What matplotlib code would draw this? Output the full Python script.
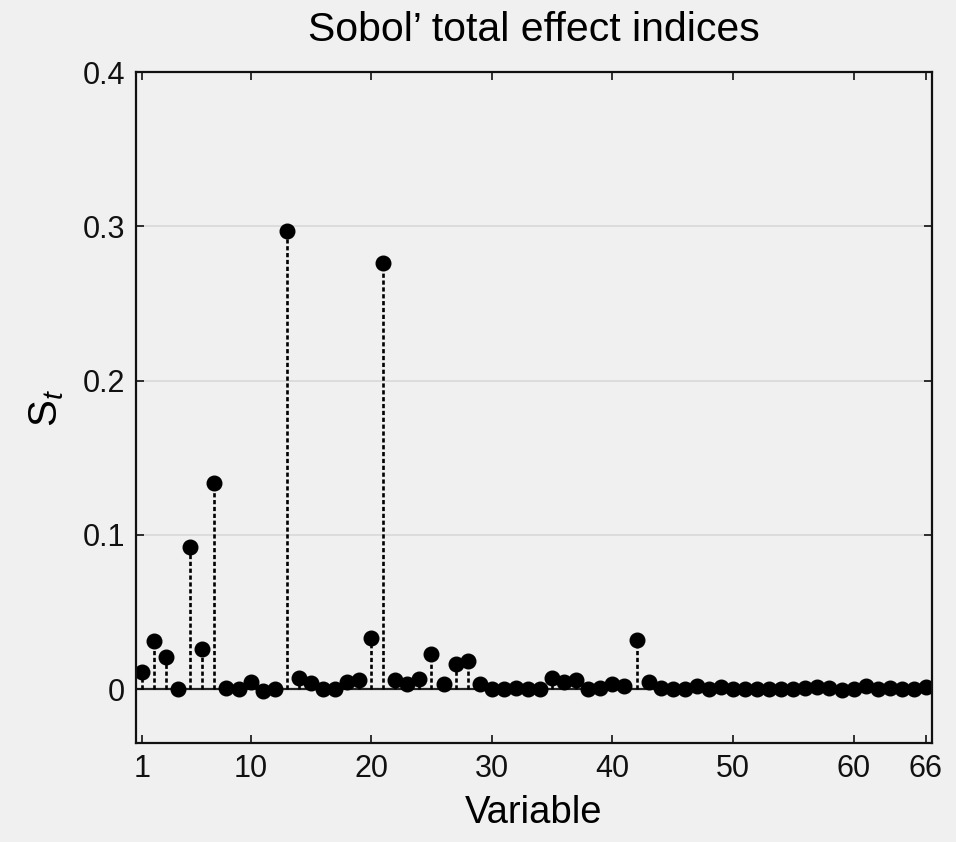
import numpy as np
import matplotlib
matplotlib.use("Agg")
import matplotlib.pyplot as plt

plt.rcParams['font.family'] = ['Liberation Sans', 'DejaVu Sans']
plt.rcParams['mathtext.fontset'] = 'custom'
plt.rcParams['mathtext.rm'] = 'Liberation Sans'
plt.rcParams['mathtext.it'] = 'Liberation Sans:italic'

# total effect index per input variable (1..66)
variables = np.arange(1, 67)
st = [
    0.0112, 0.0313, 0.0205, 0.0000, 0.0920, 0.0260, 0.1335, 0.0005, 0.0000, 0.0045,
    -0.0010, 0.0000, 0.2970, 0.0069, 0.0041, 0.0000, 0.0000, 0.0045, 0.0058, 0.0328,
    0.2763, 0.0058, 0.0030, 0.0065, 0.0225, 0.0032, 0.0160, 0.0180, 0.0030, 0.0000,
    0.0000, 0.0005, 0.0000, 0.0000, 0.0069, 0.0045, 0.0060, 0.0000, 0.0005, 0.0032,
    0.0020, 0.0315, 0.0047, 0.0005, 0.0000, 0.0000, 0.0020, 0.0003, 0.0010, 0.0003,
    0.0003, 0.0000, 0.0000, 0.0000, 0.0000, 0.0005, 0.0010, 0.0007, -0.0006, 0.0003,
    0.0022, 0.0003, 0.0005, 0.0000, 0.0003, 0.0010,
]
xticks = [1, 10, 20, 30, 40, 50, 60, 66]
yticks = [0, 0.1, 0.2, 0.3, 0.4]
ytick_labels = ['0', '0.1', '0.2', '0.3', '0.4']

bg = '#f0f0f0'
fig = plt.figure(figsize=(9.56, 8.42), dpi=100, facecolor=bg)
ax = fig.add_axes([136 / 956, 1 - 743 / 842, (932 - 136) / 956, (743 - 72) / 842])
ax.set_facecolor(bg)

for y in yticks[1:4]:
    ax.axhline(y, color='#d9d9d9', lw=1.2, zorder=0)
ax.axhline(0, color='#222222', lw=1.6, zorder=1)

markerline, stemlines, baseline = ax.stem(variables, st, linefmt='k:', markerfmt='ko', basefmt=' ')
stemlines.set_linewidth(1.9)
stemlines.set_linestyle((0, (1.6, 1.0)))
markerline.set_markersize(10.5)

ax.set_xlim(0.5, 66.5)
ax.set_ylim(-0.035, 0.4)
ax.set_xticks(xticks)
ax.set_yticks(yticks)
ax.set_yticklabels(ytick_labels)
ax.tick_params(direction='in', top=True, right=True, labelsize=22, length=6, width=1.2, pad=8, colors='#111111')
for s in ax.spines.values():
    s.set_linewidth(1.6)
    s.set_color('#111111')

ax.set_title('Sobol\u2019 total effect indices', fontsize=29.5, pad=22)
ax.set_xlabel('Variable', fontsize=27.5, labelpad=8)
ax.set_ylabel(r'S$_{\mathit{t}}$', fontsize=29, labelpad=12)

fig.savefig('out.png', dpi=100, facecolor=bg)
